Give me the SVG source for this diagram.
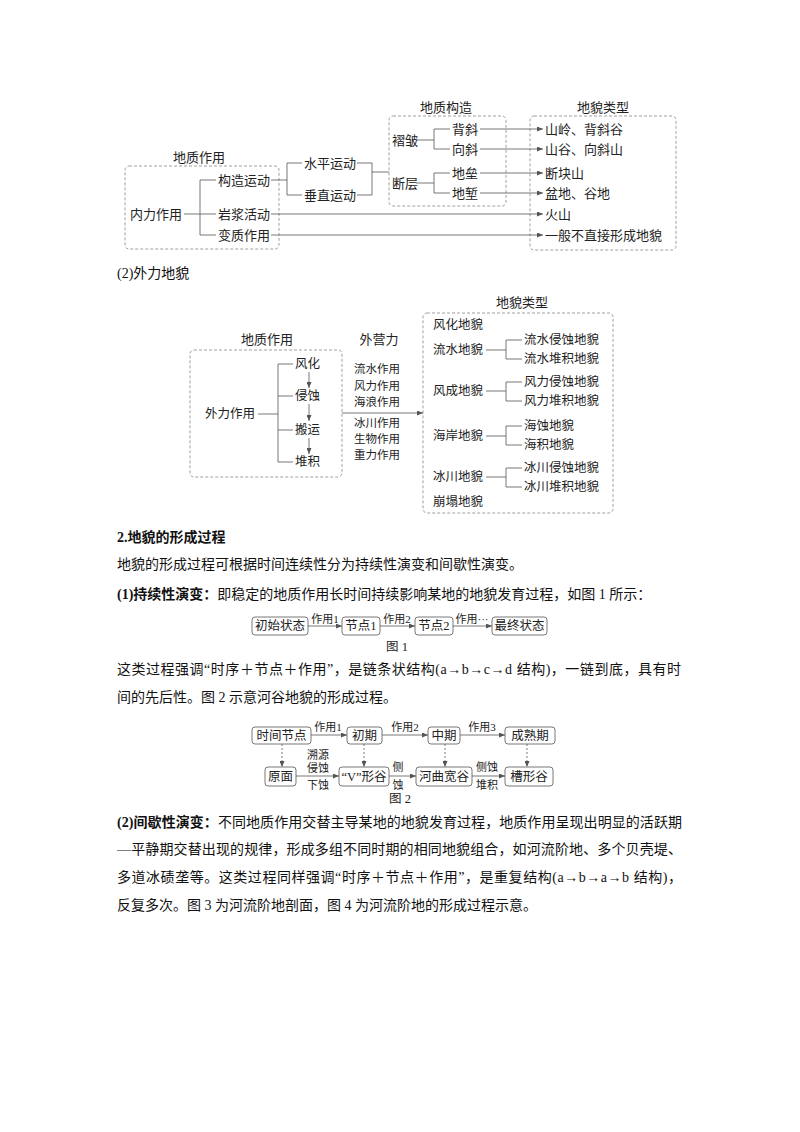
<svg xmlns="http://www.w3.org/2000/svg" width="800" height="1132" viewBox="0 0 800 1132">
<defs>
<marker id="ah" markerUnits="userSpaceOnUse" markerWidth="6" markerHeight="5" refX="6" refY="2.5" orient="auto">
<path d="M0,0 L6,2.5 L0,5 z" fill="#555"/>
</marker>
<style>
text{font-family:"Liberation Serif","Noto Sans CJK SC",serif;fill:#222}
.t{font-size:13px;dominant-baseline:central}
.s{font-size:12.5px;dominant-baseline:central}
.x{font-size:11.5px;dominant-baseline:central}
.l{font-size:11px}
.m{text-anchor:middle}
.b{font-size:14px;fill:#111}
.bd{font-weight:bold}
.ln{stroke:#555;stroke-width:0.8;fill:none}
.ar{stroke:#555;stroke-width:0.8;fill:none;marker-end:url(#ah)}
.da{stroke:#555;stroke-width:0.8;fill:none;stroke-dasharray:2 2;marker-end:url(#ah)}
.db{fill:none;stroke:#888;stroke-width:0.8;stroke-dasharray:3 2}
.bx{fill:#fff;stroke:#555;stroke-width:0.8}
</style>
</defs>
<rect width="800" height="1132" fill="#fff"/>

<!-- ===== Diagram 1: internal forces ===== -->
<g id="d1-geo">
<text class="t m" x="199" y="157">地质作用</text>
<rect class="db" x="125" y="166" width="154" height="83" rx="4"/>
<text class="t" x="130" y="214">内力作用</text>
<text class="t" x="218" y="180">构造运动</text>
<text class="t" x="218" y="214">岩浆活动</text>
<text class="t" x="218" y="235">变质作用</text>
</g>
<g id="d1-move">
<text class="t" x="304" y="163">水平运动</text>
<text class="t" x="304" y="195">垂直运动</text>
</g>
<g id="d1-struct">
<text class="t m" x="446" y="107">地质构造</text>
<rect class="db" x="389" y="116" width="117" height="90" rx="4"/>
<text class="t" x="392" y="140">褶皱</text>
<text class="t" x="452" y="129">背斜</text>
<text class="t" x="452" y="149">向斜</text>
<text class="t" x="392" y="183">断层</text>
<text class="t" x="452" y="173">地垒</text>
<text class="t" x="452" y="193">地堑</text>
</g>
<g id="d1-types">
<text class="t m" x="603" y="107">地貌类型</text>
<rect class="db" x="530" y="116" width="146" height="134" rx="4"/>
<text class="t" x="545" y="129">山岭、背斜谷</text>
<text class="t" x="545" y="149">山谷、向斜山</text>
<text class="t" x="545" y="173">断块山</text>
<text class="t" x="545" y="193">盆地、谷地</text>
<text class="t" x="545" y="214">火山</text>
<text class="t" x="545" y="235">一般不直接形成地貌</text>
</g>
<g id="d1-connectors">
<path class="ln" d="M184,214 H200 M200,180 V235 M200,180 H216 M200,214 H216 M200,235 H216"/>
<path class="ln" d="M271,180 H287 M287,163 V195 M287,163 H302 M287,195 H302"/>
<path class="ln" d="M357,163 H372 M357,195 H372 M372,163 V195 M372,172 H389"/>
<path class="ln" d="M416,140 H434 M434,129 V149 M434,129 H450 M434,149 H450"/>
<path class="ln" d="M416,183 H434 M434,173 V193 M434,173 H450 M434,193 H450"/>
<path class="ar" d="M480,129 H543"/>
<path class="ar" d="M480,149 H543"/>
<path class="ar" d="M480,173 H543"/>
<path class="ar" d="M480,193 H543"/>
<path class="ar" d="M271,214 H543"/>
<path class="ar" d="M271,235 H543"/>
</g>

<text class="b" x="117" y="278">(2)外力地貌</text>

<!-- ===== Diagram 2: external forces ===== -->
<g id="d2-geo">
<text class="t m" x="267" y="339">地质作用</text>
<rect class="db" x="190" y="350" width="152" height="127" rx="4"/>
<text class="s" x="205" y="414">外力作用</text>
<text class="s" x="295" y="364">风化</text>
<text class="s" x="295" y="396">侵蚀</text>
<text class="s" x="295" y="430">搬运</text>
<text class="s" x="295" y="462">堆积</text>
</g>
<g id="d2-forces">
<text class="t m" x="379" y="339">外营力</text>
<text class="x m" x="377" y="369">流水作用</text>
<text class="x m" x="377" y="386">风力作用</text>
<text class="x m" x="377" y="402">海浪作用</text>
<text class="x m" x="377" y="423">冰川作用</text>
<text class="x m" x="377" y="439">生物作用</text>
<text class="x m" x="377" y="455">重力作用</text>
</g>
<g id="d2-types">
<text class="t m" x="522" y="302">地貌类型</text>
<rect class="db" x="423" y="313" width="190" height="200" rx="4"/>
<text class="s" x="433" y="325">风化地貌</text>
<text class="s" x="433" y="350">流水地貌</text>
<text class="s" x="433" y="391">风成地貌</text>
<text class="s" x="433" y="436">海岸地貌</text>
<text class="s" x="433" y="477">冰川地貌</text>
<text class="s" x="433" y="502">崩塌地貌</text>
<text class="s" x="524" y="340">流水侵蚀地貌</text>
<text class="s" x="524" y="359">流水堆积地貌</text>
<text class="s" x="524" y="382">风力侵蚀地貌</text>
<text class="s" x="524" y="401">风力堆积地貌</text>
<text class="s" x="524" y="426">海蚀地貌</text>
<text class="s" x="524" y="445">海积地貌</text>
<text class="s" x="524" y="468">冰川侵蚀地貌</text>
<text class="s" x="524" y="487">冰川堆积地貌</text>
</g>
<g id="d2-connectors">
<path class="ln" d="M258,414 H278 M278,364 V462 M278,364 H293 M278,396 H293 M278,430 H293 M278,462 H293"/>
<path class="ar" d="M309,372 V388"/>
<path class="ar" d="M309,404 V421"/>
<path class="ar" d="M309,438 V454"/>
<path class="ar" d="M342,413 H423"/>
<path class="ln" d="M486,350 H506 M506,340 V359 M506,340 H522 M506,359 H522"/>
<path class="ln" d="M486,391 H506 M506,382 V401 M506,382 H522 M506,401 H522"/>
<path class="ln" d="M486,436 H506 M506,426 V445 M506,426 H522 M506,445 H522"/>
<path class="ln" d="M486,477 H506 M506,468 V487 M506,468 H522 M506,487 H522"/>
</g>

<!-- ===== Body text ===== -->
<text class="b bd" x="117" y="542">2.地貌的形成过程</text>
<text class="b" x="117" y="569">地貌的形成过程可根据时间连续性分为持续性演变和间歇性演变。</text>
<text class="b" x="117" y="599"><tspan class="bd">(1)持续性演变：</tspan>即稳定的地质作用长时间持续影响某地的地貌发育过程，如图 1 所示：</text>

<!-- ===== Figure 1 ===== -->
<g id="f1-n1"><rect class="bx" x="252" y="617" width="56" height="18" rx="3"/><text class="s m" x="280" y="626">初始状态</text></g>
<g id="f1-n2"><rect class="bx" x="342" y="617" width="38" height="18" rx="3"/><text class="s m" x="361" y="626">节点1</text></g>
<g id="f1-n3"><rect class="bx" x="415" y="617" width="38" height="18" rx="3"/><text class="s m" x="434" y="626">节点2</text></g>
<g id="f1-n4"><rect class="bx" x="492" y="617" width="55" height="18" rx="3"/><text class="s m" x="519.5" y="626">最终状态</text></g>
<g id="f1-connectors">
<path class="ar" d="M308,626 H342"/>
<path class="ar" d="M380,626 H415"/>
<path class="ar" d="M453,626 H492"/>
<text class="l m" x="325" y="623">作用1</text>
<text class="l m" x="397" y="623">作用2</text>
<text class="l m" x="472" y="623">作用···</text>
</g>
<text class="s m" x="397" y="647">图 1</text>

<text class="b" x="117" y="674" textLength="564" lengthAdjust="spacing">这类过程强调“时序＋节点＋作用”，是链条状结构(a→b→c→d 结构)，一链到底，具有时</text>
<text class="b" x="117" y="702">间的先后性。图 2 示意河谷地貌的形成过程。</text>

<!-- ===== Figure 2 ===== -->
<g id="f2-t0"><rect class="bx" x="252" y="727" width="59" height="17" rx="3"/><text class="s m" x="281.5" y="735.5">时间节点</text></g>
<g id="f2-t1"><rect class="bx" x="347" y="727" width="35" height="17" rx="3"/><text class="s m" x="364.5" y="735.5">初期</text></g>
<g id="f2-t2"><rect class="bx" x="428" y="727" width="32" height="17" rx="3"/><text class="s m" x="444" y="735.5">中期</text></g>
<g id="f2-t3"><rect class="bx" x="505" y="727" width="50" height="17" rx="3"/><text class="s m" x="530" y="735.5">成熟期</text></g>
<g id="f2-v0"><rect class="bx" x="265" y="767" width="31" height="19" rx="3"/><text class="s m" x="280.5" y="776.5">原面</text></g>
<g id="f2-v1"><rect class="bx" x="339" y="767" width="50" height="19" rx="3"/><text class="s m" x="364" y="776.5">“V”形谷</text></g>
<g id="f2-v2"><rect class="bx" x="416" y="767" width="56" height="19" rx="3"/><text class="s m" x="444" y="776.5">河曲宽谷</text></g>
<g id="f2-v3"><rect class="bx" x="505" y="767" width="48" height="19" rx="3"/><text class="s m" x="529" y="776.5">槽形谷</text></g>
<g id="f2-connectors">
<path class="ar" d="M311,735 H347"/>
<path class="ar" d="M382,735 H428"/>
<path class="ar" d="M460,735 H505"/>
<text class="l m" x="328" y="731">作用1</text>
<text class="l m" x="405" y="731">作用2</text>
<text class="l m" x="482" y="731">作用3</text>
<path class="da" d="M282,744 V767"/>
<path class="da" d="M364,744 V767"/>
<path class="da" d="M445,744 V767"/>
<path class="da" d="M527,744 V767"/>
<path class="ar" d="M296,776 H339"/>
<path class="ar" d="M389,776 H416"/>
<path class="ar" d="M472,776 H505"/>
<text class="l m" x="318" y="759">溯源</text>
<text class="l m" x="318" y="772">侵蚀</text>
<text class="l m" x="318" y="789">下蚀</text>
<text class="l m" x="398" y="771">侧</text>
<text class="l m" x="398" y="789">蚀</text>
<text class="l m" x="487" y="771">侧蚀</text>
<text class="l m" x="487" y="789">堆积</text>
</g>
<text class="s m" x="400" y="799">图 2</text>

<text class="b" x="117" y="827" textLength="565" lengthAdjust="spacing"><tspan class="bd">(2)间歇性演变：</tspan>不同地质作用交替主导某地的地貌发育过程，地质作用呈现出明显的活跃期</text>
<text class="b" x="117" y="854" textLength="565" lengthAdjust="spacing">—平静期交替出现的规律，形成多组不同时期的相同地貌组合，如河流阶地、多个贝壳堤、</text>
<text class="b" x="117" y="882" textLength="565" lengthAdjust="spacing">多道冰碛垄等。这类过程同样强调“时序＋节点＋作用”，是重复结构(a→b→a→b 结构)，</text>
<text class="b" x="117" y="910">反复多次。图 3 为河流阶地剖面，图 4 为河流阶地的形成过程示意。</text>
</svg>
